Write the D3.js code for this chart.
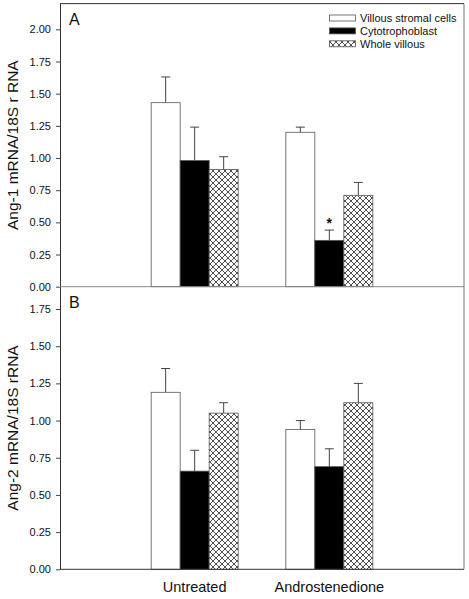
<!DOCTYPE html>
<html><head><meta charset="utf-8">
<script src="https://cdn.jsdelivr.net/npm/d3@7"></script>
<style>body{margin:0;background:#fff}svg{display:block}text{font-family:Arial,"Liberation Sans",sans-serif;fill:#111}</style>
</head><body><svg id="c" width="469" height="599"></svg>
<script>
const categories = ["Untreated", "Androstenedione"];
const seriesNames = ["Villous stromal cells", "Cytotrophoblast", "Whole villous"];
// Panel A (Ang-1)
const ang1Stromal = [1.43, 1.20];
const ang1Cyto = [0.98, 0.36];
const ang1Whole = [0.91, 0.71];
const ang1StromalErr = [0.20, 0.04];
const ang1CytoErr = [0.26, 0.08];
const ang1WholeErr = [0.10, 0.10];
// Panel B (Ang-2)
const ang2Stromal = [1.19, 0.94];
const ang2Cyto = [0.66, 0.69];
const ang2Whole = [1.05, 1.12];
const ang2StromalErr = [0.16, 0.06];
const ang2CytoErr = [0.14, 0.12];
const ang2WholeErr = [0.07, 0.13];
const ticksA = [0, 0.25, 0.5, 0.75, 1.0, 1.25, 1.5, 1.75, 2.0];
const ticksB = [0, 0.25, 0.5, 0.75, 1.0, 1.25, 1.5, 1.75];
const significance = [{panel: "A", category: "Androstenedione", series: "Cytotrophoblast", mark: "*"}];

const svg = d3.select("#c");
const defs = svg.append("defs");
const pat = defs.append("pattern").attr("id", "hatch").attr("patternUnits", "userSpaceOnUse")
  .attr("width", 6).attr("height", 6);
pat.append("rect").attr("width", 6).attr("height", 6).attr("fill", "#fff");
pat.append("path").attr("d", "M0,0L6,6M6,0L0,6M-1,5L1,7M5,-1L7,1M-1,1L1,-1M5,7L7,5")
  .attr("stroke", "#222").attr("stroke-width", 0.8);

const fills = ["#fff", "#000", "url(#hatch)"];
const L = 60, R = 464;
const x0 = d3.scalePoint().domain(categories).range([L, R]).padding(1);
const x1 = d3.scaleBand().domain(seriesNames).range([-43.5, 43.5]).padding(0);

function panel(vals, errs, yTop, yBot, maxV, ticks, letter, ylabel, isTop) {
  const y = d3.scaleLinear().domain([0, maxV]).range([yBot, yTop]);
  const g = svg.append("g");
  // bars
  seriesNames.forEach((s, si) => {
    categories.forEach((c, ci) => {
      const v = vals[si][ci], e = errs[si][ci];
      const bx = x0(c) + x1(s), w = x1.bandwidth(), cx = bx + w / 2;
      g.append("line").attr("x1", cx).attr("x2", cx).attr("y1", y(v)).attr("y2", y(v + e))
        .attr("stroke", "#444").attr("stroke-width", 1);
      g.append("line").attr("x1", cx - 4.5).attr("x2", cx + 4.5).attr("y1", y(v + e)).attr("y2", y(v + e))
        .attr("stroke", "#444").attr("stroke-width", 1);
      g.append("rect").attr("x", bx).attr("y", y(v)).attr("width", w).attr("height", y(0) - y(v))
        .attr("fill", fills[si]).attr("stroke", "#555").attr("stroke-width", 0.8);
    });
  });
  // axis
  const ax = d3.axisLeft(y).tickValues(ticks).tickFormat(d3.format(".2f")).tickSize(4).tickSizeOuter(0).tickPadding(5);
  const ag = g.append("g").attr("transform", `translate(${L},0)`).call(ax);
  ag.select(".domain").attr("stroke", "#333");
  ag.selectAll(".tick line").attr("stroke", "#444");
  ag.selectAll("text").style("font-size", "11px").attr("fill", "#222");
  // baseline
  g.append("line").attr("x1", L).attr("x2", R).attr("y1", y(0)).attr("y2", y(0))
    .attr("stroke", isTop ? "#888" : "#333").attr("stroke-width", 1);
  // right border
  g.append("line").attr("x1", R).attr("x2", R).attr("y1", yTop).attr("y2", yBot)
    .attr("stroke", "#777").attr("stroke-width", 1);
  if (isTop) g.append("line").attr("x1", L).attr("x2", R).attr("y1", yTop).attr("y2", yTop)
    .attr("stroke", "#333").attr("stroke-width", 1);
  g.append("text").attr("x", 69).attr("y", yTop + 21).style("font-size", "16px").text(letter);
  g.append("text").attr("transform", `translate(18,${(yTop + yBot) / 2}) rotate(-90)`)
    .attr("text-anchor", "middle").style("font-size", "15.5px").text(ylabel);
  return {g, y};
}

const A = panel([ang1Stromal, ang1Cyto, ang1Whole], [ang1StromalErr, ang1CytoErr, ang1WholeErr],
  3.6, 286.7, 2.2, ticksA, "A", "Ang-1 mRNA/18S r RNA", true);
const B = panel([ang2Stromal, ang2Cyto, ang2Whole], [ang2StromalErr, ang2CytoErr, ang2WholeErr],
  286.7, 569.3, 1.9, ticksB, "B", "Ang-2 mRNA/18S rRNA", false);

// significance
significance.forEach(s => {
  const si = seriesNames.indexOf(s.series), ci = categories.indexOf(s.category);
  const v = ang1Cyto[ci] + ang1CytoErr[ci];
  A.g.append("text").attr("x", x0(s.category) + x1(s.series) + x1.bandwidth() / 2)
    .attr("y", A.y(v) - 2).attr("text-anchor", "middle").style("font-size", "14px").style("font-weight", "bold").text(s.mark);
});

// category labels
categories.forEach(c => {
  svg.append("text").attr("x", x0(c)).attr("y", 592).attr("text-anchor", "middle")
    .style("font-size", "14.5px").text(c);
});

// legend
const lg = svg.append("g");
seriesNames.forEach((s, i) => {
  const cy = 18 + i * 12.9;
  lg.append("rect").attr("x", 329.5).attr("y", cy - 3).attr("width", 26).attr("height", 6)
    .attr("fill", fills[i]).attr("stroke", "#555").attr("stroke-width", 0.8);
  lg.append("text").attr("x", 360).attr("y", cy).attr("dy", "0.35em").style("font-size", "11px").text(s);
});
</script></body></html>
